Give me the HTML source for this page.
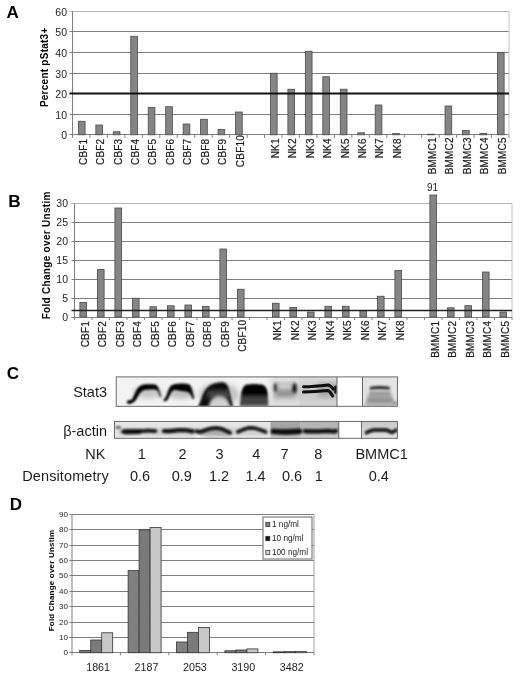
<!DOCTYPE html>
<html><head><meta charset="utf-8"><title>Figure</title>
<style>html,body{margin:0;padding:0;background:#fff;}body{width:520px;height:677px;overflow:hidden;}svg{display:block;}</style>
</head><body>
<svg width="520" height="677" viewBox="0 0 520 677" font-family='"Liberation Sans", sans-serif' fill="#1c1c1c">
<rect width="520" height="677" fill="#fff"/>
<g id="panelA">
<text x="6.4" y="18.3" font-size="17" font-weight="bold" fill="#000">A</text>
<text transform="translate(47.6,67.3) rotate(-90)" font-size="10" font-weight="bold" text-anchor="middle" letter-spacing="0.25" fill="#000">Percent pStat3+</text>
<line x1="69.5" y1="134.50" x2="509" y2="134.50" stroke="#7e7e7e" stroke-width="1"/>
<text x="67" y="139.48" font-size="10.5" text-anchor="end">0</text>
<line x1="69.5" y1="114.50" x2="509" y2="114.50" stroke="#7e7e7e" stroke-width="1"/>
<text x="67" y="119.48" font-size="10.5" text-anchor="end">10</text>
<line x1="69.5" y1="93.50" x2="509" y2="93.50" stroke="#7e7e7e" stroke-width="1"/>
<text x="67" y="98.48" font-size="10.5" text-anchor="end">20</text>
<line x1="69.5" y1="73.50" x2="509" y2="73.50" stroke="#7e7e7e" stroke-width="1"/>
<text x="67" y="78.48" font-size="10.5" text-anchor="end">30</text>
<line x1="69.5" y1="52.50" x2="509" y2="52.50" stroke="#7e7e7e" stroke-width="1"/>
<text x="67" y="57.48" font-size="10.5" text-anchor="end">40</text>
<line x1="69.5" y1="31.50" x2="509" y2="31.50" stroke="#7e7e7e" stroke-width="1"/>
<text x="67" y="36.48" font-size="10.5" text-anchor="end">50</text>
<line x1="69.5" y1="11.50" x2="509" y2="11.50" stroke="#b4b4b4" stroke-width="1"/>
<text x="67" y="16.48" font-size="10.5" text-anchor="end">60</text>
<line x1="509" y1="11.2" x2="509" y2="134.8" stroke="#c4c4c4" stroke-width="1"/>
<line x1="72.5" y1="11.2" x2="72.5" y2="134.8" stroke="#7e7e7e" stroke-width="1"/>
<line x1="72.50" y1="134.8" x2="72.50" y2="137.8" stroke="#7e7e7e" stroke-width="1"/>
<line x1="89.96" y1="134.8" x2="89.96" y2="137.8" stroke="#7e7e7e" stroke-width="1"/>
<line x1="107.42" y1="134.8" x2="107.42" y2="137.8" stroke="#7e7e7e" stroke-width="1"/>
<line x1="124.88" y1="134.8" x2="124.88" y2="137.8" stroke="#7e7e7e" stroke-width="1"/>
<line x1="142.34" y1="134.8" x2="142.34" y2="137.8" stroke="#7e7e7e" stroke-width="1"/>
<line x1="159.80" y1="134.8" x2="159.80" y2="137.8" stroke="#7e7e7e" stroke-width="1"/>
<line x1="177.26" y1="134.8" x2="177.26" y2="137.8" stroke="#7e7e7e" stroke-width="1"/>
<line x1="194.72" y1="134.8" x2="194.72" y2="137.8" stroke="#7e7e7e" stroke-width="1"/>
<line x1="212.18" y1="134.8" x2="212.18" y2="137.8" stroke="#7e7e7e" stroke-width="1"/>
<line x1="229.64" y1="134.8" x2="229.64" y2="137.8" stroke="#7e7e7e" stroke-width="1"/>
<line x1="247.10" y1="134.8" x2="247.10" y2="137.8" stroke="#7e7e7e" stroke-width="1"/>
<line x1="264.56" y1="134.8" x2="264.56" y2="137.8" stroke="#7e7e7e" stroke-width="1"/>
<line x1="282.02" y1="134.8" x2="282.02" y2="137.8" stroke="#7e7e7e" stroke-width="1"/>
<line x1="299.48" y1="134.8" x2="299.48" y2="137.8" stroke="#7e7e7e" stroke-width="1"/>
<line x1="316.94" y1="134.8" x2="316.94" y2="137.8" stroke="#7e7e7e" stroke-width="1"/>
<line x1="334.40" y1="134.8" x2="334.40" y2="137.8" stroke="#7e7e7e" stroke-width="1"/>
<line x1="351.86" y1="134.8" x2="351.86" y2="137.8" stroke="#7e7e7e" stroke-width="1"/>
<line x1="369.32" y1="134.8" x2="369.32" y2="137.8" stroke="#7e7e7e" stroke-width="1"/>
<line x1="386.78" y1="134.8" x2="386.78" y2="137.8" stroke="#7e7e7e" stroke-width="1"/>
<line x1="404.24" y1="134.8" x2="404.24" y2="137.8" stroke="#7e7e7e" stroke-width="1"/>
<line x1="421.70" y1="134.8" x2="421.70" y2="137.8" stroke="#7e7e7e" stroke-width="1"/>
<line x1="439.16" y1="134.8" x2="439.16" y2="137.8" stroke="#7e7e7e" stroke-width="1"/>
<line x1="456.62" y1="134.8" x2="456.62" y2="137.8" stroke="#7e7e7e" stroke-width="1"/>
<line x1="474.08" y1="134.8" x2="474.08" y2="137.8" stroke="#7e7e7e" stroke-width="1"/>
<line x1="491.54" y1="134.8" x2="491.54" y2="137.8" stroke="#7e7e7e" stroke-width="1"/>
<line x1="509.00" y1="134.8" x2="509.00" y2="137.8" stroke="#7e7e7e" stroke-width="1"/>
<rect x="78.38" y="121.25" width="6.7" height="13.55" fill="#858585" stroke="#4a4a4a" stroke-width="0.8"/>
<rect x="95.84" y="125.00" width="6.7" height="9.80" fill="#858585" stroke="#4a4a4a" stroke-width="0.8"/>
<rect x="113.30" y="131.75" width="6.7" height="3.05" fill="#858585" stroke="#4a4a4a" stroke-width="0.8"/>
<rect x="130.76" y="36.25" width="6.7" height="98.55" fill="#858585" stroke="#4a4a4a" stroke-width="0.8"/>
<rect x="148.22" y="107.50" width="6.7" height="27.30" fill="#858585" stroke="#4a4a4a" stroke-width="0.8"/>
<rect x="165.68" y="106.75" width="6.7" height="28.05" fill="#858585" stroke="#4a4a4a" stroke-width="0.8"/>
<rect x="183.14" y="124.00" width="6.7" height="10.80" fill="#858585" stroke="#4a4a4a" stroke-width="0.8"/>
<rect x="200.60" y="119.25" width="6.7" height="15.55" fill="#858585" stroke="#4a4a4a" stroke-width="0.8"/>
<rect x="218.06" y="129.50" width="6.7" height="5.30" fill="#858585" stroke="#4a4a4a" stroke-width="0.8"/>
<rect x="235.52" y="112.00" width="6.7" height="22.80" fill="#858585" stroke="#4a4a4a" stroke-width="0.8"/>
<rect x="270.44" y="73.25" width="6.7" height="61.55" fill="#858585" stroke="#4a4a4a" stroke-width="0.8"/>
<rect x="287.90" y="89.25" width="6.7" height="45.55" fill="#858585" stroke="#4a4a4a" stroke-width="0.8"/>
<rect x="305.36" y="51.25" width="6.7" height="83.55" fill="#858585" stroke="#4a4a4a" stroke-width="0.8"/>
<rect x="322.82" y="76.75" width="6.7" height="58.05" fill="#858585" stroke="#4a4a4a" stroke-width="0.8"/>
<rect x="340.28" y="89.25" width="6.7" height="45.55" fill="#858585" stroke="#4a4a4a" stroke-width="0.8"/>
<rect x="357.74" y="132.80" width="6.7" height="2.00" fill="#858585" stroke="#4a4a4a" stroke-width="0.8"/>
<rect x="375.20" y="105.00" width="6.7" height="29.80" fill="#858585" stroke="#4a4a4a" stroke-width="0.8"/>
<rect x="392.66" y="133.60" width="6.7" height="1.20" fill="#858585" stroke="#4a4a4a" stroke-width="0.8"/>
<rect x="427.58" y="134.20" width="6.7" height="0.60" fill="#858585" stroke="#4a4a4a" stroke-width="0.8"/>
<rect x="445.04" y="106.00" width="6.7" height="28.80" fill="#858585" stroke="#4a4a4a" stroke-width="0.8"/>
<rect x="462.50" y="130.50" width="6.7" height="4.30" fill="#858585" stroke="#4a4a4a" stroke-width="0.8"/>
<rect x="479.96" y="133.40" width="6.7" height="1.40" fill="#858585" stroke="#4a4a4a" stroke-width="0.8"/>
<rect x="497.42" y="52.80" width="6.7" height="82.00" fill="#858585" stroke="#4a4a4a" stroke-width="0.8"/>
<line x1="69.5" y1="93.4" x2="509" y2="93.4" stroke="#111" stroke-width="2"/>
<text transform="translate(86.63,138.60) rotate(-90)" font-size="10" letter-spacing="0.2" text-anchor="end" stroke="#1c1c1c" stroke-width="0.2">CBF1</text>
<text transform="translate(104.09,138.60) rotate(-90)" font-size="10" letter-spacing="0.2" text-anchor="end" stroke="#1c1c1c" stroke-width="0.2">CBF2</text>
<text transform="translate(121.55,138.60) rotate(-90)" font-size="10" letter-spacing="0.2" text-anchor="end" stroke="#1c1c1c" stroke-width="0.2">CBF3</text>
<text transform="translate(139.01,138.60) rotate(-90)" font-size="10" letter-spacing="0.2" text-anchor="end" stroke="#1c1c1c" stroke-width="0.2">CBF4</text>
<text transform="translate(156.47,138.60) rotate(-90)" font-size="10" letter-spacing="0.2" text-anchor="end" stroke="#1c1c1c" stroke-width="0.2">CBF5</text>
<text transform="translate(173.93,138.60) rotate(-90)" font-size="10" letter-spacing="0.2" text-anchor="end" stroke="#1c1c1c" stroke-width="0.2">CBF6</text>
<text transform="translate(191.39,138.60) rotate(-90)" font-size="10" letter-spacing="0.2" text-anchor="end" stroke="#1c1c1c" stroke-width="0.2">CBF7</text>
<text transform="translate(208.85,138.60) rotate(-90)" font-size="10" letter-spacing="0.2" text-anchor="end" stroke="#1c1c1c" stroke-width="0.2">CBF8</text>
<text transform="translate(226.31,138.60) rotate(-90)" font-size="10" letter-spacing="0.2" text-anchor="end" stroke="#1c1c1c" stroke-width="0.2">CBF9</text>
<text transform="translate(243.77,135.00) rotate(-90)" font-size="10" letter-spacing="0.2" text-anchor="end" stroke="#1c1c1c" stroke-width="0.2">CBF10</text>
<text transform="translate(278.69,138.30) rotate(-90)" font-size="10" letter-spacing="0.2" text-anchor="end" stroke="#1c1c1c" stroke-width="0.2">NK1</text>
<text transform="translate(296.15,138.30) rotate(-90)" font-size="10" letter-spacing="0.2" text-anchor="end" stroke="#1c1c1c" stroke-width="0.2">NK2</text>
<text transform="translate(313.61,138.30) rotate(-90)" font-size="10" letter-spacing="0.2" text-anchor="end" stroke="#1c1c1c" stroke-width="0.2">NK3</text>
<text transform="translate(331.07,138.30) rotate(-90)" font-size="10" letter-spacing="0.2" text-anchor="end" stroke="#1c1c1c" stroke-width="0.2">NK4</text>
<text transform="translate(348.53,138.30) rotate(-90)" font-size="10" letter-spacing="0.2" text-anchor="end" stroke="#1c1c1c" stroke-width="0.2">NK5</text>
<text transform="translate(365.99,138.30) rotate(-90)" font-size="10" letter-spacing="0.2" text-anchor="end" stroke="#1c1c1c" stroke-width="0.2">NK6</text>
<text transform="translate(383.45,138.30) rotate(-90)" font-size="10" letter-spacing="0.2" text-anchor="end" stroke="#1c1c1c" stroke-width="0.2">NK7</text>
<text transform="translate(400.91,138.30) rotate(-90)" font-size="10" letter-spacing="0.2" text-anchor="end" stroke="#1c1c1c" stroke-width="0.2">NK8</text>
<text transform="translate(435.83,137.20) rotate(-90)" font-size="10" letter-spacing="0.2" text-anchor="end" stroke="#1c1c1c" stroke-width="0.2">BMMC1</text>
<text transform="translate(453.29,137.20) rotate(-90)" font-size="10" letter-spacing="0.2" text-anchor="end" stroke="#1c1c1c" stroke-width="0.2">BMMC2</text>
<text transform="translate(470.75,137.20) rotate(-90)" font-size="10" letter-spacing="0.2" text-anchor="end" stroke="#1c1c1c" stroke-width="0.2">BMMC3</text>
<text transform="translate(488.21,137.20) rotate(-90)" font-size="10" letter-spacing="0.2" text-anchor="end" stroke="#1c1c1c" stroke-width="0.2">BMMC4</text>
<text transform="translate(505.67,137.20) rotate(-90)" font-size="10" letter-spacing="0.2" text-anchor="end" stroke="#1c1c1c" stroke-width="0.2">BMMC5</text>
</g>
<g id="panelB">
<text x="8.3" y="206.5" font-size="17.2" font-weight="bold" fill="#000">B</text>
<text transform="translate(49.9,255.3) rotate(-90)" font-size="10" font-weight="bold" text-anchor="middle" letter-spacing="0.3" fill="#000">Fold Change over Unstim</text>
<line x1="71.5" y1="317.50" x2="512" y2="317.50" stroke="#7e7e7e" stroke-width="1"/>
<text x="68" y="320.78" font-size="10.5" text-anchor="end">0</text>
<line x1="71.5" y1="298.50" x2="512" y2="298.50" stroke="#7e7e7e" stroke-width="1"/>
<text x="68" y="301.78" font-size="10.5" text-anchor="end">5</text>
<line x1="71.5" y1="279.50" x2="512" y2="279.50" stroke="#7e7e7e" stroke-width="1"/>
<text x="68" y="282.78" font-size="10.5" text-anchor="end">10</text>
<line x1="71.5" y1="260.50" x2="512" y2="260.50" stroke="#7e7e7e" stroke-width="1"/>
<text x="68" y="263.78" font-size="10.5" text-anchor="end">15</text>
<line x1="71.5" y1="241.50" x2="512" y2="241.50" stroke="#7e7e7e" stroke-width="1"/>
<text x="68" y="244.78" font-size="10.5" text-anchor="end">20</text>
<line x1="71.5" y1="222.50" x2="512" y2="222.50" stroke="#7e7e7e" stroke-width="1"/>
<text x="68" y="225.78" font-size="10.5" text-anchor="end">25</text>
<line x1="71.5" y1="203.50" x2="512" y2="203.50" stroke="#b4b4b4" stroke-width="1"/>
<text x="68" y="206.78" font-size="10.5" text-anchor="end">30</text>
<line x1="512" y1="203.5" x2="512" y2="317" stroke="#c4c4c4" stroke-width="1"/>
<line x1="74.5" y1="203.5" x2="74.5" y2="317" stroke="#7e7e7e" stroke-width="1"/>
<line x1="74.50" y1="317" x2="74.50" y2="320" stroke="#7e7e7e" stroke-width="1"/>
<line x1="92.00" y1="317" x2="92.00" y2="320" stroke="#7e7e7e" stroke-width="1"/>
<line x1="109.50" y1="317" x2="109.50" y2="320" stroke="#7e7e7e" stroke-width="1"/>
<line x1="127.00" y1="317" x2="127.00" y2="320" stroke="#7e7e7e" stroke-width="1"/>
<line x1="144.50" y1="317" x2="144.50" y2="320" stroke="#7e7e7e" stroke-width="1"/>
<line x1="162.00" y1="317" x2="162.00" y2="320" stroke="#7e7e7e" stroke-width="1"/>
<line x1="179.50" y1="317" x2="179.50" y2="320" stroke="#7e7e7e" stroke-width="1"/>
<line x1="197.00" y1="317" x2="197.00" y2="320" stroke="#7e7e7e" stroke-width="1"/>
<line x1="214.50" y1="317" x2="214.50" y2="320" stroke="#7e7e7e" stroke-width="1"/>
<line x1="232.00" y1="317" x2="232.00" y2="320" stroke="#7e7e7e" stroke-width="1"/>
<line x1="249.50" y1="317" x2="249.50" y2="320" stroke="#7e7e7e" stroke-width="1"/>
<line x1="267.00" y1="317" x2="267.00" y2="320" stroke="#7e7e7e" stroke-width="1"/>
<line x1="284.50" y1="317" x2="284.50" y2="320" stroke="#7e7e7e" stroke-width="1"/>
<line x1="302.00" y1="317" x2="302.00" y2="320" stroke="#7e7e7e" stroke-width="1"/>
<line x1="319.50" y1="317" x2="319.50" y2="320" stroke="#7e7e7e" stroke-width="1"/>
<line x1="337.00" y1="317" x2="337.00" y2="320" stroke="#7e7e7e" stroke-width="1"/>
<line x1="354.50" y1="317" x2="354.50" y2="320" stroke="#7e7e7e" stroke-width="1"/>
<line x1="372.00" y1="317" x2="372.00" y2="320" stroke="#7e7e7e" stroke-width="1"/>
<line x1="389.50" y1="317" x2="389.50" y2="320" stroke="#7e7e7e" stroke-width="1"/>
<line x1="407.00" y1="317" x2="407.00" y2="320" stroke="#7e7e7e" stroke-width="1"/>
<line x1="424.50" y1="317" x2="424.50" y2="320" stroke="#7e7e7e" stroke-width="1"/>
<line x1="442.00" y1="317" x2="442.00" y2="320" stroke="#7e7e7e" stroke-width="1"/>
<line x1="459.50" y1="317" x2="459.50" y2="320" stroke="#7e7e7e" stroke-width="1"/>
<line x1="477.00" y1="317" x2="477.00" y2="320" stroke="#7e7e7e" stroke-width="1"/>
<line x1="494.50" y1="317" x2="494.50" y2="320" stroke="#7e7e7e" stroke-width="1"/>
<line x1="512.00" y1="317" x2="512.00" y2="320" stroke="#7e7e7e" stroke-width="1"/>
<rect x="79.90" y="302.50" width="6.7" height="14.50" fill="#858585" stroke="#4a4a4a" stroke-width="0.8"/>
<rect x="97.40" y="269.50" width="6.7" height="47.50" fill="#858585" stroke="#4a4a4a" stroke-width="0.8"/>
<rect x="114.90" y="208.00" width="6.7" height="109.00" fill="#858585" stroke="#4a4a4a" stroke-width="0.8"/>
<rect x="132.40" y="298.25" width="6.7" height="18.75" fill="#858585" stroke="#4a4a4a" stroke-width="0.8"/>
<rect x="149.90" y="306.75" width="6.7" height="10.25" fill="#858585" stroke="#4a4a4a" stroke-width="0.8"/>
<rect x="167.40" y="305.75" width="6.7" height="11.25" fill="#858585" stroke="#4a4a4a" stroke-width="0.8"/>
<rect x="184.90" y="305.00" width="6.7" height="12.00" fill="#858585" stroke="#4a4a4a" stroke-width="0.8"/>
<rect x="202.40" y="306.50" width="6.7" height="10.50" fill="#858585" stroke="#4a4a4a" stroke-width="0.8"/>
<rect x="219.90" y="249.00" width="6.7" height="68.00" fill="#858585" stroke="#4a4a4a" stroke-width="0.8"/>
<rect x="237.40" y="289.25" width="6.7" height="27.75" fill="#858585" stroke="#4a4a4a" stroke-width="0.8"/>
<rect x="272.40" y="303.25" width="6.7" height="13.75" fill="#858585" stroke="#4a4a4a" stroke-width="0.8"/>
<rect x="289.90" y="307.50" width="6.7" height="9.50" fill="#858585" stroke="#4a4a4a" stroke-width="0.8"/>
<rect x="307.40" y="312.00" width="6.7" height="5.00" fill="#858585" stroke="#4a4a4a" stroke-width="0.8"/>
<rect x="324.90" y="306.25" width="6.7" height="10.75" fill="#858585" stroke="#4a4a4a" stroke-width="0.8"/>
<rect x="342.40" y="306.25" width="6.7" height="10.75" fill="#858585" stroke="#4a4a4a" stroke-width="0.8"/>
<rect x="359.90" y="310.50" width="6.7" height="6.50" fill="#858585" stroke="#4a4a4a" stroke-width="0.8"/>
<rect x="377.40" y="296.25" width="6.7" height="20.75" fill="#858585" stroke="#4a4a4a" stroke-width="0.8"/>
<rect x="394.90" y="270.50" width="6.7" height="46.50" fill="#858585" stroke="#4a4a4a" stroke-width="0.8"/>
<rect x="429.90" y="195.00" width="6.7" height="122.00" fill="#858585" stroke="#4a4a4a" stroke-width="0.8"/>
<rect x="447.40" y="307.80" width="6.7" height="9.20" fill="#858585" stroke="#4a4a4a" stroke-width="0.8"/>
<rect x="464.90" y="305.70" width="6.7" height="11.30" fill="#858585" stroke="#4a4a4a" stroke-width="0.8"/>
<rect x="482.40" y="272.00" width="6.7" height="45.00" fill="#858585" stroke="#4a4a4a" stroke-width="0.8"/>
<rect x="499.90" y="312.00" width="6.7" height="5.00" fill="#858585" stroke="#4a4a4a" stroke-width="0.8"/>
<line x1="71.5" y1="310.6" x2="512" y2="310.6" stroke="#222" stroke-width="1.5"/>
<text transform="translate(88.75,320.95) rotate(-90)" font-size="10" letter-spacing="0.2" text-anchor="end" stroke="#1c1c1c" stroke-width="0.2">CBF1</text>
<text transform="translate(106.25,320.95) rotate(-90)" font-size="10" letter-spacing="0.2" text-anchor="end" stroke="#1c1c1c" stroke-width="0.2">CBF2</text>
<text transform="translate(123.75,320.95) rotate(-90)" font-size="10" letter-spacing="0.2" text-anchor="end" stroke="#1c1c1c" stroke-width="0.2">CBF3</text>
<text transform="translate(141.25,320.95) rotate(-90)" font-size="10" letter-spacing="0.2" text-anchor="end" stroke="#1c1c1c" stroke-width="0.2">CBF4</text>
<text transform="translate(158.75,320.95) rotate(-90)" font-size="10" letter-spacing="0.2" text-anchor="end" stroke="#1c1c1c" stroke-width="0.2">CBF5</text>
<text transform="translate(176.25,320.95) rotate(-90)" font-size="10" letter-spacing="0.2" text-anchor="end" stroke="#1c1c1c" stroke-width="0.2">CBF6</text>
<text transform="translate(193.75,320.95) rotate(-90)" font-size="10" letter-spacing="0.2" text-anchor="end" stroke="#1c1c1c" stroke-width="0.2">CBF7</text>
<text transform="translate(211.25,320.95) rotate(-90)" font-size="10" letter-spacing="0.2" text-anchor="end" stroke="#1c1c1c" stroke-width="0.2">CBF8</text>
<text transform="translate(228.75,320.95) rotate(-90)" font-size="10" letter-spacing="0.2" text-anchor="end" stroke="#1c1c1c" stroke-width="0.2">CBF9</text>
<text transform="translate(246.25,319.70) rotate(-90)" font-size="10" letter-spacing="0.2" text-anchor="end" stroke="#1c1c1c" stroke-width="0.2">CBF10</text>
<text transform="translate(281.25,320.20) rotate(-90)" font-size="10" letter-spacing="0.2" text-anchor="end" stroke="#1c1c1c" stroke-width="0.2">NK1</text>
<text transform="translate(298.75,320.20) rotate(-90)" font-size="10" letter-spacing="0.2" text-anchor="end" stroke="#1c1c1c" stroke-width="0.2">NK2</text>
<text transform="translate(316.25,320.20) rotate(-90)" font-size="10" letter-spacing="0.2" text-anchor="end" stroke="#1c1c1c" stroke-width="0.2">NK3</text>
<text transform="translate(333.75,320.20) rotate(-90)" font-size="10" letter-spacing="0.2" text-anchor="end" stroke="#1c1c1c" stroke-width="0.2">NK4</text>
<text transform="translate(351.25,320.20) rotate(-90)" font-size="10" letter-spacing="0.2" text-anchor="end" stroke="#1c1c1c" stroke-width="0.2">NK5</text>
<text transform="translate(368.75,320.20) rotate(-90)" font-size="10" letter-spacing="0.2" text-anchor="end" stroke="#1c1c1c" stroke-width="0.2">NK6</text>
<text transform="translate(386.25,320.20) rotate(-90)" font-size="10" letter-spacing="0.2" text-anchor="end" stroke="#1c1c1c" stroke-width="0.2">NK7</text>
<text transform="translate(403.75,320.20) rotate(-90)" font-size="10" letter-spacing="0.2" text-anchor="end" stroke="#1c1c1c" stroke-width="0.2">NK8</text>
<text transform="translate(438.75,320.70) rotate(-90)" font-size="10" letter-spacing="0.2" text-anchor="end" stroke="#1c1c1c" stroke-width="0.2">BMMC1</text>
<text transform="translate(456.25,320.70) rotate(-90)" font-size="10" letter-spacing="0.2" text-anchor="end" stroke="#1c1c1c" stroke-width="0.2">BMMC2</text>
<text transform="translate(473.75,320.70) rotate(-90)" font-size="10" letter-spacing="0.2" text-anchor="end" stroke="#1c1c1c" stroke-width="0.2">BMMC3</text>
<text transform="translate(491.25,320.70) rotate(-90)" font-size="10" letter-spacing="0.2" text-anchor="end" stroke="#1c1c1c" stroke-width="0.2">BMMC4</text>
<text transform="translate(508.75,320.70) rotate(-90)" font-size="10" letter-spacing="0.2" text-anchor="end" stroke="#1c1c1c" stroke-width="0.2">BMMC5</text>
<text x="432.5" y="190.8" font-size="10" text-anchor="middle">91</text>
</g>
<g id="panelC">
<text x="6.8" y="378.8" font-size="17" font-weight="bold" fill="#000">C</text>
<text x="107" y="396.8" font-size="14.5" text-anchor="end">Stat3</text>
<text x="107" y="435.8" font-size="14.5" text-anchor="end">β-actin</text>
<text x="105.5" y="458.8" font-size="14.5" text-anchor="end">NK</text>
<text x="108.9" y="480.5" font-size="14.5" text-anchor="end" letter-spacing="0.1">Densitometry</text>
<text x="141.75" y="458.8" font-size="14.5" text-anchor="middle">1</text>
<text x="182.5" y="458.8" font-size="14.5" text-anchor="middle">2</text>
<text x="219.5" y="458.8" font-size="14.5" text-anchor="middle">3</text>
<text x="256.25" y="458.8" font-size="14.5" text-anchor="middle">4</text>
<text x="284.5" y="458.8" font-size="14.5" text-anchor="middle">7</text>
<text x="318.25" y="458.8" font-size="14.5" text-anchor="middle">8</text>
<text x="381.6" y="458.8" font-size="14.5" text-anchor="middle">BMMC1</text>
<text x="140" y="480.5" font-size="14.5" text-anchor="middle">0.6</text>
<text x="181.75" y="480.5" font-size="14.5" text-anchor="middle">0.9</text>
<text x="219" y="480.5" font-size="14.5" text-anchor="middle">1.2</text>
<text x="255.6" y="480.5" font-size="14.5" text-anchor="middle">1.4</text>
<text x="292" y="480.5" font-size="14.5" text-anchor="middle">0.6</text>
<text x="318.75" y="480.5" font-size="14.5" text-anchor="middle">1</text>
<text x="378.75" y="480.5" font-size="14.5" text-anchor="middle">0.4</text>
<defs>
<filter id="bl1" x="-20%" y="-20%" width="140%" height="140%"><feGaussianBlur stdDeviation="0.9"/></filter>
<filter id="bl2" x="-20%" y="-20%" width="140%" height="140%"><feGaussianBlur stdDeviation="1.6"/></filter>
<filter id="bl3" x="-20%" y="-20%" width="140%" height="140%"><feGaussianBlur stdDeviation="2.6"/></filter>
<clipPath id="cpS"><rect x="116.2" y="376.9" width="281.2" height="29.4"/></clipPath>
<clipPath id="cpA"><rect x="114.4" y="421.4" width="283" height="16.9"/></clipPath>
<linearGradient id="gS7" x1="0" y1="0" x2="0" y2="1"><stop offset="0" stop-color="#e2e2e2"/><stop offset="0.5" stop-color="#d2d2d2"/><stop offset="1" stop-color="#dedede"/></linearGradient>
<linearGradient id="gS8" x1="0" y1="0" x2="0" y2="1"><stop offset="0" stop-color="#dcdcdc"/><stop offset="0.5" stop-color="#c6c6c6"/><stop offset="1" stop-color="#d6d6d6"/></linearGradient>
<linearGradient id="gL3" x1="0" y1="0" x2="0" y2="1"><stop offset="0" stop-color="#030303"/><stop offset="0.45" stop-color="#0a0a0a"/><stop offset="0.62" stop-color="#444"/><stop offset="0.82" stop-color="#909090"/><stop offset="1" stop-color="#b0b0b0"/></linearGradient>
<linearGradient id="gL4" x1="0" y1="0" x2="0" y2="1"><stop offset="0" stop-color="#000"/><stop offset="0.42" stop-color="#050505"/><stop offset="0.55" stop-color="#2c2c2c"/><stop offset="0.68" stop-color="#484848"/><stop offset="0.8" stop-color="#3c3c3c"/><stop offset="1" stop-color="#6a6a6a"/></linearGradient>
<filter id="blA" x="-20%" y="-60%" width="140%" height="220%"><feGaussianBlur stdDeviation="1.05"/></filter>
<linearGradient id="gA7" x1="0" y1="0" x2="0" y2="1"><stop offset="0" stop-color="#a8a8a8"/><stop offset="0.55" stop-color="#a0a0a0"/><stop offset="1" stop-color="#cccccc"/></linearGradient>
<linearGradient id="gA8" x1="0" y1="0" x2="0" y2="1"><stop offset="0" stop-color="#b4b4b4"/><stop offset="0.55" stop-color="#b8b8b8"/><stop offset="1" stop-color="#d4d4d4"/></linearGradient>
<linearGradient id="gAB" x1="0" y1="0" x2="0" y2="1"><stop offset="0" stop-color="#c8c8c8"/><stop offset="1" stop-color="#e2e2e2"/></linearGradient>
<clipPath id="cpL3"><path d="M200 406.6 C201.6 403.6 202.8 400.4 204 397 C205.6 392.6 207.6 389.6 210 388 L227.4 388 C228.8 392.8 230 399.6 231.8 406.6 Z"/></clipPath>
<filter id="bl08" x="-20%" y="-40%" width="140%" height="180%"><feGaussianBlur stdDeviation="0.75"/></filter>
</defs>
<!-- Stat3 blot -->
<g clip-path="url(#cpS)">
<rect x="115.5" y="377" width="282" height="29.3" fill="#ececec"/>
<rect x="115.5" y="377" width="154.5" height="29.3" fill="#f3f3f3"/>
<rect x="269.5" y="377" width="30.5" height="29.3" fill="url(#gS7)"/>
<rect x="299.5" y="377" width="37.5" height="29.3" fill="url(#gS8)"/>
<rect x="362.5" y="377" width="35" height="29.3" fill="#e4e4e4"/>
<g filter="url(#bl3)" opacity="0.6">
<ellipse cx="148" cy="392.5" rx="14" ry="6" fill="#a8a8a8"/>
<ellipse cx="181" cy="393" rx="13" ry="6" fill="#9c9c9c"/>
<ellipse cx="219" cy="395" rx="20" ry="12" fill="#a0a0a0"/>
</g>
<g filter="url(#bl1)" fill="#060606">
<!-- lane 1 -->
<path d="M127.2 401.4 C129 400.6 131 400.4 132.2 398.8 C133.8 396 134.8 393 136.4 390 C138 387.2 140.4 385.2 143.4 384.5 C147 384 152 384 155.4 384.6 C157.4 385.4 158.4 387.6 159.2 390.2 C160 392.8 160.8 395.2 161.4 397 L160.2 397.4 C159.2 395 158.4 392.4 157.2 390.6 C156.2 389.6 154.6 389.6 153 389.6 C150 389.8 147 389.6 144.5 390 C142 390.6 140.4 392.4 139 394.6 C137.6 397 136.6 399.6 134.6 401.6 C133 403.3 130.4 404 128.2 403.6 C126.6 403.2 126.4 402 127.2 401.4 Z"/>
<circle cx="129.2" cy="402" r="2"/>
<!-- lane 2 -->
<path d="M163.2 400 C165 398.6 166.2 396.4 167.2 393.6 C168.2 390.6 169.2 387.6 171 385.6 C173.2 384 177 383.5 181 383.4 C184.4 383.4 188 383.6 189.8 384.8 C191.4 386.4 192 389.6 192.8 392.4 C193.4 394.6 193.8 396.8 194.4 398.6 L192.8 399.3 C191.8 397 191 394.8 189.8 393.4 C188.4 392 186 391.6 183.4 391.3 C180.6 391 178.2 390.3 175.8 390 C173.6 389.8 172.2 390.8 171.2 392.6 C170 394.8 169.2 397.2 167.8 399.4 C166.8 400.8 165.2 401.6 163.8 401.3 Z"/>
</g>
<!-- lane 3 -->
<g filter="url(#bl1)">
<path d="M198 406.6 C199.6 403.6 200.8 400.4 202 397 C203.6 392.6 205.6 388.6 209 386 C212.4 383.6 218 382.3 222.6 382.3 C225.8 382.6 227.4 384.6 228.4 387.8 C229.8 392.8 231 399.6 233 406.6 Z" fill="#080808"/>
</g>
<g clip-path="url(#cpL3)">
<g filter="url(#bl2)">
<path d="M208 412 C208.4 402 212 396.4 219 395.6 C225.4 395.8 229.6 400 231.4 412 Z" fill="#d0d0d0"/>
</g>
<g filter="url(#bl3)" opacity="0.5">
<rect x="207" y="390.5" width="24" height="8" fill="#8a8a8a"/>
</g>
</g>
<!-- lane 4 -->
<g filter="url(#bl1)">
<path d="M239.6 406.6 C240.2 400 240.8 394 242 390.2 C243 387.2 244.4 385.4 246.6 384.6 C250 383.7 257 383.7 261.6 384.6 C265.2 385.6 267 388.6 268 392 C269 397 269.6 402 270 406.6 Z" fill="url(#gL4)"/>
</g>

<!-- lane 7 -->
<g filter="url(#bl3)">
<rect x="274" y="384" width="22" height="14" fill="#a2a2a2"/>
</g>
<g filter="url(#bl2)">
<rect x="268.6" y="376" width="3.2" height="32" fill="#ececec"/>
<rect x="279" y="384" width="12" height="4.6" fill="#d0d0d0"/>
<ellipse cx="275.2" cy="387.6" rx="1.8" ry="4.4" fill="#2c2c2c"/>
<ellipse cx="294.2" cy="388.4" rx="2.3" ry="5.2" fill="#0a0a0a"/>
<rect x="277" y="392.2" width="16" height="2.4" fill="#8a8a8a"/>
</g>
<!-- lane 8 -->
<g filter="url(#bl3)" opacity="0.7">
<rect x="318" y="383" width="22" height="14" fill="#9a9a9a"/>
</g>
<g filter="url(#bl08)" fill="none" stroke="#0a0a0a" stroke-linecap="round" stroke-linejoin="round">
<path d="M303.4 386.8 C310 386.8 320 386 328.4 385 C330.4 385.4 331.8 387.4 333.4 389.2" stroke-width="3"/>
<path d="M303.4 392 C310 392 320 391.4 328 390.6 C330 391.4 331.4 393.8 332.6 396" stroke-width="3"/>
<path d="M335.4 386.6 L335.4 392.6" stroke-width="2.2" stroke="#141414"/>
</g>
<!-- gap -->
<rect x="337" y="376" width="25.5" height="32" fill="#fff"/>
<!-- BMMC1 -->
<g filter="url(#bl2)">
<path d="M369.5 391 L390 391 L396 406 L364.5 406 Z" fill="#a8a8a8"/>
<rect x="369" y="392.6" width="21.5" height="2.2" fill="#909090"/>
<rect x="367" y="398.6" width="26" height="2.6" fill="#858585"/>
</g>
<g filter="url(#bl1)">
<path d="M371 388.2 C375 387.5 384 387.5 388.6 388.2" fill="none" stroke="#222" stroke-width="2.8" stroke-linecap="round"/>
<circle cx="395.3" cy="403.2" r="1.1" fill="#333"/>
</g>
</g>
<g fill="none" stroke="#5a5a5a" stroke-width="0.9">
<rect x="116.2" y="376.9" width="281.2" height="29.4"/>
<line x1="337" y1="377" x2="337" y2="406.3"/>
<line x1="362.5" y1="377" x2="362.5" y2="406.3"/>
</g>
<!-- beta-actin blot -->
<g clip-path="url(#cpA)">
<rect x="113.8" y="421.3" width="283.7" height="17" fill="#e6e6e6"/>
<rect x="270.5" y="421.3" width="30" height="17" fill="url(#gA7)"/>
<rect x="300.5" y="421.3" width="38.5" height="17" fill="url(#gA8)"/>
<rect x="361.5" y="421.3" width="36.5" height="17" fill="url(#gAB)"/>
<g filter="url(#bl2)" opacity="0.7">
<rect x="118" y="428" width="150" height="7" fill="#c4c4c4"/>
<path d="M196 434 L207 434 L204 439 L196 439 Z" fill="#fff"/>
</g>
<g filter="url(#bl2)" opacity="0.8">
<path d="M199 431 C204 428.6 214 427.6 222 429 L229 432 L229 436 L200 436 Z" fill="#a4a4a4"/>
</g>
<g filter="url(#blA)" fill="none" stroke="#080808" stroke-linecap="round">
<path d="M123 431.5 C128 432.5 136 432 142 431 C147 430.4 151 430.6 155.5 431" stroke-width="3.6"/>
<path d="M125 431.7 L139 431.5" stroke-width="5"/>
<path d="M116.8 427.4 L119.6 427.4" stroke-width="1.9" stroke="#1a1a1a"/>
<path d="M164 431 C169 431.6 175 430.2 181 430 C185 430 189 430.6 192.5 431.4" stroke-width="4.2"/>
<path d="M196.5 431.2 C199 432.6 202 432 206 430 C211 428 218 427.8 223 429.4 C226 430.6 228 432 230 432.8" stroke-width="3.8"/>
<path d="M238 431.8 C242 430 246 428 251 427.8 C256 428 261 430 265.5 431.8" stroke-width="3.6"/>
<path d="M273.5 431.4 C280 432 292 432 299.5 431.2" stroke-width="5.4"/>
<path d="M305 431.2 C312 431.8 322 431.2 328 430.8 C331 431 333 432.2 336 431" stroke-width="4.2"/>
<path d="M366.4 432.6 C369 431.6 371 430.2 374 430 L386 430 C389 430.4 390.4 432.4 392 432.4 C393.6 432.2 394.6 430.8 396 430.2" stroke-width="3.5"/>
</g>
<rect x="338.8" y="420" width="22.7" height="20" fill="#fff"/>
</g>
<g fill="none" stroke="#5a5a5a" stroke-width="0.9">
<rect x="114.4" y="421.4" width="283" height="16.9"/>
<line x1="338.8" y1="421.3" x2="338.8" y2="438.3"/>
<line x1="361.5" y1="421.3" x2="361.5" y2="438.3"/>
</g>

</g>
<g id="panelD">
<text x="9.8" y="509.7" font-size="17" font-weight="bold" fill="#000">D</text>
<text transform="translate(54,580.5) rotate(-90)" font-size="8" font-weight="bold" text-anchor="middle" letter-spacing="0.2" fill="#000">Fold Change over Unstim</text>
<line x1="69.5" y1="652.50" x2="314" y2="652.50" stroke="#7e7e7e" stroke-width="1"/>
<text x="68" y="655.40" font-size="8" text-anchor="end">0</text>
<line x1="69.5" y1="637.50" x2="314" y2="637.50" stroke="#7e7e7e" stroke-width="1"/>
<text x="68" y="640.40" font-size="8" text-anchor="end">10</text>
<line x1="69.5" y1="622.50" x2="314" y2="622.50" stroke="#7e7e7e" stroke-width="1"/>
<text x="68" y="625.40" font-size="8" text-anchor="end">20</text>
<line x1="69.5" y1="606.50" x2="314" y2="606.50" stroke="#7e7e7e" stroke-width="1"/>
<text x="68" y="609.40" font-size="8" text-anchor="end">30</text>
<line x1="69.5" y1="591.50" x2="314" y2="591.50" stroke="#7e7e7e" stroke-width="1"/>
<text x="68" y="594.40" font-size="8" text-anchor="end">40</text>
<line x1="69.5" y1="575.50" x2="314" y2="575.50" stroke="#7e7e7e" stroke-width="1"/>
<text x="68" y="578.40" font-size="8" text-anchor="end">50</text>
<line x1="69.5" y1="560.50" x2="314" y2="560.50" stroke="#7e7e7e" stroke-width="1"/>
<text x="68" y="563.40" font-size="8" text-anchor="end">60</text>
<line x1="69.5" y1="545.50" x2="314" y2="545.50" stroke="#7e7e7e" stroke-width="1"/>
<text x="68" y="548.40" font-size="8" text-anchor="end">70</text>
<line x1="69.5" y1="529.50" x2="314" y2="529.50" stroke="#7e7e7e" stroke-width="1"/>
<text x="68" y="532.40" font-size="8" text-anchor="end">80</text>
<line x1="69.5" y1="514.50" x2="314" y2="514.50" stroke="#7e7e7e" stroke-width="1"/>
<text x="68" y="517.40" font-size="8" text-anchor="end">90</text>
<line x1="72" y1="514.5" x2="72" y2="652.75" stroke="#7e7e7e" stroke-width="1"/>
<line x1="314" y1="514.5" x2="314" y2="652.75" stroke="#a0a0a0" stroke-width="1"/>
<line x1="72.00" y1="652.75" x2="72.00" y2="655.25" stroke="#7e7e7e" stroke-width="1"/>
<line x1="120.40" y1="652.75" x2="120.40" y2="655.25" stroke="#7e7e7e" stroke-width="1"/>
<line x1="168.80" y1="652.75" x2="168.80" y2="655.25" stroke="#7e7e7e" stroke-width="1"/>
<line x1="217.20" y1="652.75" x2="217.20" y2="655.25" stroke="#7e7e7e" stroke-width="1"/>
<line x1="265.60" y1="652.75" x2="265.60" y2="655.25" stroke="#7e7e7e" stroke-width="1"/>
<line x1="314.00" y1="652.75" x2="314.00" y2="655.25" stroke="#7e7e7e" stroke-width="1"/>
<rect x="79.70" y="650.45" width="11" height="2.30" fill="#808080" stroke="#333" stroke-width="0.8"/>
<rect x="90.70" y="640.00" width="11" height="12.75" fill="#7a7a7a" stroke="#333" stroke-width="0.8"/>
<rect x="101.70" y="632.78" width="11" height="19.97" fill="#c8c8c8" stroke="#333" stroke-width="0.8"/>
<text x="98.10" y="671.3" font-size="10.7" text-anchor="middle">1861</text>
<rect x="128.10" y="570.57" width="11" height="82.18" fill="#808080" stroke="#333" stroke-width="0.8"/>
<rect x="139.10" y="529.86" width="11" height="122.89" fill="#7a7a7a" stroke="#333" stroke-width="0.8"/>
<rect x="150.10" y="527.56" width="11" height="125.19" fill="#c8c8c8" stroke="#333" stroke-width="0.8"/>
<text x="146.50" y="671.3" font-size="10.7" text-anchor="middle">2187</text>
<rect x="176.50" y="642.00" width="11" height="10.75" fill="#808080" stroke="#333" stroke-width="0.8"/>
<rect x="187.50" y="632.32" width="11" height="20.43" fill="#7a7a7a" stroke="#333" stroke-width="0.8"/>
<rect x="198.50" y="627.40" width="11" height="25.35" fill="#c8c8c8" stroke="#333" stroke-width="0.8"/>
<text x="194.90" y="671.3" font-size="10.7" text-anchor="middle">2053</text>
<rect x="224.90" y="650.75" width="11" height="2.00" fill="#808080" stroke="#333" stroke-width="0.8"/>
<rect x="235.90" y="649.99" width="11" height="2.76" fill="#7a7a7a" stroke="#333" stroke-width="0.8"/>
<rect x="246.90" y="648.91" width="11" height="3.84" fill="#c8c8c8" stroke="#333" stroke-width="0.8"/>
<text x="243.30" y="671.3" font-size="10.7" text-anchor="middle">3190</text>
<rect x="273.30" y="651.83" width="11" height="0.92" fill="#808080" stroke="#333" stroke-width="0.8"/>
<rect x="284.30" y="651.67" width="11" height="1.08" fill="#7a7a7a" stroke="#333" stroke-width="0.8"/>
<rect x="295.30" y="651.52" width="11" height="1.23" fill="#c8c8c8" stroke="#333" stroke-width="0.8"/>
<text x="291.70" y="671.3" font-size="10.7" text-anchor="middle">3482</text>
<rect x="263" y="517" width="49" height="42" fill="#fff" stroke="#666" stroke-width="1"/>
<rect x="265.8" y="522.3" width="4" height="4.4" fill="#808080" stroke="#333" stroke-width="0.7"/>
<text x="272" y="527.3" font-size="8.2">1 ng/ml</text>
<rect x="265.8" y="536.3" width="4" height="4.4" fill="#111" stroke="#333" stroke-width="0.7"/>
<text x="272" y="541.3" font-size="8.2">10 ng/ml</text>
<rect x="265.8" y="550.3" width="4" height="4.4" fill="#d0d0d0" stroke="#333" stroke-width="0.7"/>
<text x="272" y="555.3" font-size="8.2">100 ng/ml</text>
</g>
</svg>
</body></html>
